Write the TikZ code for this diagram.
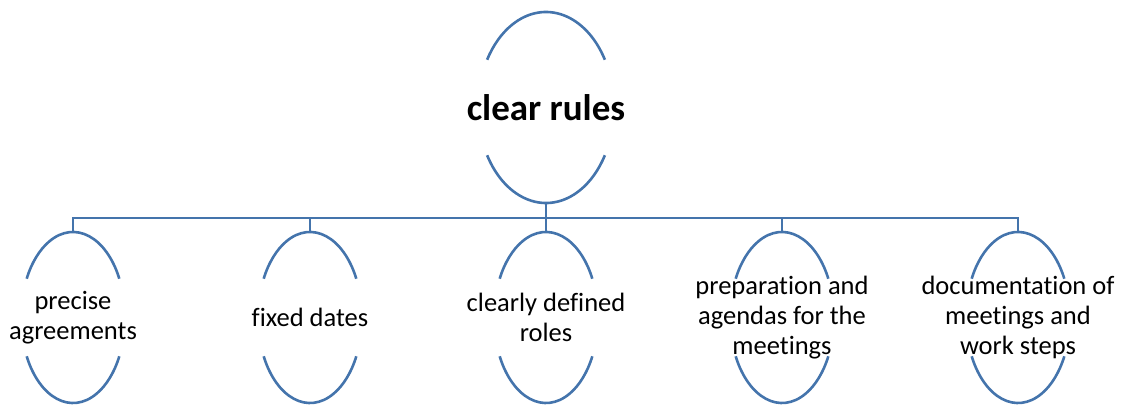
\documentclass[tikz,border=0pt]{standalone}
\usepackage{fontspec}
\setmainfont{Carlito}[Ligatures=NoCommon]
\usetikzlibrary{shapes.geometric}
\definecolor{rimblue}{RGB}{68,116,172}

\begin{document}
\begin{tikzpicture}[x=1pt,y=1pt,
  rim/.style={draw=rimblue,line width=2.6pt},
  topoval/.style={ellipse,inner sep=0pt,minimum width=136pt,minimum height=191pt,
    align=center,font=\fontsize{37}{44}\selectfont\bfseries},
  leaf/.style={ellipse,inner sep=0pt,minimum width=104pt,minimum height=171pt,
    align=center,font=\fontsize{26.5}{30}\selectfont}]
\useasboundingbox (0,0) rectangle (1122,405);
%\draw[help lines] (0,0) grid[step=50] (1122,405);

\node[topoval] (rules) at (546,297.5) {clear rules};

\node[leaf] (agree) at (73,87.5) {precise\\agreements};
\node[leaf] (dates) at (310,87.5) {fixed dates};
\node[leaf] (roles) at (546,87.5) {clearly defined\\roles};
\node[leaf] (agenda) at (782,87.5) {preparation and\\agendas for the\\meetings};
\node[leaf] (docs) at (1018,87.5) {documentation of\\meetings and\\work steps};

\coordinate (bus) at (546,187);

% the oval rims, upper and lower halves
\draw[rim] (rules.center) ++(30:68 and 95.5) arc[start angle=30,end angle=150,x radius=68,y radius=95.5];
\draw[rim] (rules.center) ++(210:68 and 95.5) arc[start angle=210,end angle=330,x radius=68,y radius=95.5];

\draw[rim] (agree.center) ++(27:52 and 85.5) arc[start angle=27,end angle=153,x radius=52,y radius=85.5];
\draw[rim] (agree.center) ++(207:52 and 85.5) arc[start angle=207,end angle=333,x radius=52,y radius=85.5];
\draw[rim] (dates.center) ++(27:52 and 85.5) arc[start angle=27,end angle=153,x radius=52,y radius=85.5];
\draw[rim] (dates.center) ++(207:52 and 85.5) arc[start angle=207,end angle=333,x radius=52,y radius=85.5];
\draw[rim] (roles.center) ++(27:52 and 85.5) arc[start angle=27,end angle=153,x radius=52,y radius=85.5];
\draw[rim] (roles.center) ++(207:52 and 85.5) arc[start angle=207,end angle=333,x radius=52,y radius=85.5];
\draw[rim] (agenda.center) ++(27:52 and 85.5) arc[start angle=27,end angle=153,x radius=52,y radius=85.5];
\draw[rim] (agenda.center) ++(207:52 and 85.5) arc[start angle=207,end angle=333,x radius=52,y radius=85.5];
\draw[rim] (docs.center) ++(27:52 and 85.5) arc[start angle=27,end angle=153,x radius=52,y radius=85.5];
\draw[rim] (docs.center) ++(207:52 and 85.5) arc[start angle=207,end angle=333,x radius=52,y radius=85.5];

% connectors
\draw[rim] (rules.south) -- (roles.north);
\draw[rim] (agree.north) |- (docs.north |- bus) -- (docs.north);
\draw[rim] (dates.north) -- (dates.north |- bus);
\draw[rim] (agenda.north) -- (agenda.north |- bus);
\end{tikzpicture}
\end{document}
